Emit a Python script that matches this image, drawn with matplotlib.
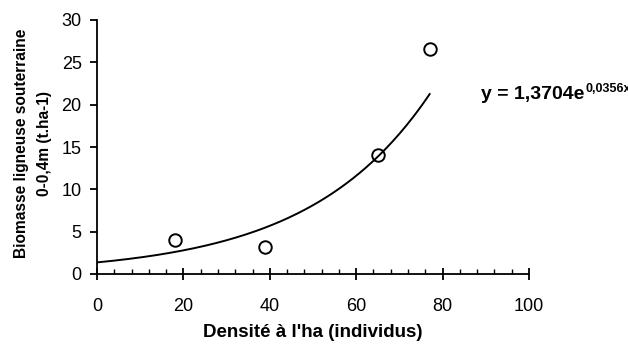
import numpy as np
import matplotlib.pyplot as plt
from matplotlib.ticker import MultipleLocator

plt.rcParams['font.family'] = ['Liberation Sans', 'DejaVu Sans']

# densite (individus/ha) et biomasse souterraine (t/ha)
densite = [18, 39, 65, 77]
biomasse = [4.0, 3.2, 14.0, 26.6]

# ajustement exponentiel y = a * exp(b x)
coef_a = 1.3704
coef_b = 0.0356
eq_txt = "y = 1,3704e"
eq_exp = "0,0356x"

fig = plt.figure(figsize=(6.28, 3.44), dpi=100)
ax = fig.add_axes([97 / 628, (344 - 274) / 344, 432 / 628, 254 / 344])

xs = np.linspace(0, max(densite), 200)
ax.plot(xs, coef_a * np.exp(coef_b * xs), color='black', lw=1.4)
ax.plot(densite, biomasse, 'o', mfc='none', mec='black', mew=1.4, ms=9, clip_on=False)

ax.set_xlim(0, 100)
ax.set_ylim(0, 30)
ax.xaxis.set_major_locator(MultipleLocator(20))
ax.xaxis.set_minor_locator(MultipleLocator(4))
ax.yaxis.set_major_locator(MultipleLocator(5))

for s in ['top', 'right']:
    ax.spines[s].set_visible(False)
for s in ['left', 'bottom']:
    ax.spines[s].set_linewidth(1.3)

ax.tick_params(axis='x', which='major', direction='inout', length=8, width=1.3, labelsize=13, pad=13)
ax.tick_params(axis='x', which='minor', direction='in', length=3.5, width=1.0)
ax.tick_params(axis='y', which='major', direction='out', length=5, width=1.3, labelsize=13, pad=6)

ax.set_xlabel("Densité à l'ha (individus)", fontsize=13.5, fontweight='bold', labelpad=7)
ax.set_ylabel("Biomasse ligneuse souterraine\n0-0,4m (t.ha-1)", fontsize=11.2, fontweight='bold',
              linespacing=1.6)
ax.yaxis.set_label_coords(-0.105, 0.515)

t = ax.text(89, 21.2, eq_txt, fontsize=14, fontweight='bold', va='center', ha='left')
fig.canvas.draw()
bb = t.get_window_extent()
fig.text(bb.x1 / fig.dpi / 6.28 + 0.001, (bb.y1 - 3) / fig.dpi / 3.44, eq_exp,
         fontsize=9, fontweight='bold', ha='left', va='center')

fig.savefig('out.png', dpi=100)
